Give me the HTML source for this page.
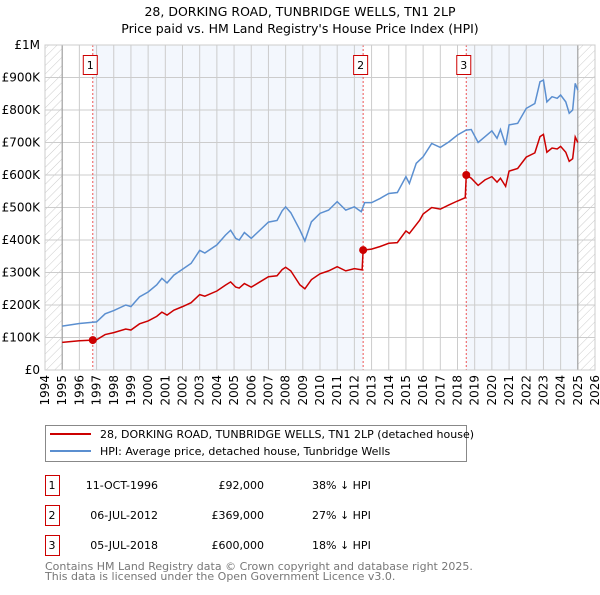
<!DOCTYPE html>
<html><head><meta charset="utf-8"><style>
body{margin:0;background:#fff;font-family:"Liberation Sans","DejaVu Sans",sans-serif;}
svg text{font-family:"DejaVu Sans","Liberation Sans",sans-serif;}
</style></head><body>
<svg id="c" width="600" height="590" xmlns="http://www.w3.org/2000/svg">
<defs><pattern id="hatch" width="6" height="6" patternUnits="userSpaceOnUse" patternTransform="rotate(45)"><line x1="0" y1="0" x2="0" y2="6" stroke="#ccc" stroke-width="1"/></pattern></defs>
<text x="300" y="16" text-anchor="middle" font-size="12.5">28, DORKING ROAD, TUNBRIDGE WELLS, TN1 2LP</text>
<text x="300" y="33" text-anchor="middle" font-size="12.5">Price paid vs. HM Land Registry's House Price Index (HPI)</text>
<g id="plot"></g>
<g>
<rect x="45.5" y="425.5" width="421" height="36" fill="#fff" stroke="#888"/>
<line x1="50" y1="434" x2="91" y2="434" stroke="#cc0000" stroke-width="2"/>
<text x="100" y="438" font-size="11">28, DORKING ROAD, TUNBRIDGE WELLS, TN1 2LP (detached house)</text>
<line x1="50" y1="451" x2="91" y2="451" stroke="#5b8fd0" stroke-width="2"/>
<text x="100" y="455" font-size="11">HPI: Average price, detached house, Tunbridge Wells</text>
</g>
<g id="table" font-size="11"></g>
<text x="45" y="570" font-size="11" fill="#777">Contains HM Land Registry data © Crown copyright and database right 2025.</text>
<text x="45" y="580" font-size="11" fill="#777">This data is licensed under the Open Government Licence v3.0.</text>
</svg>
<script>
const hpiYears=[1995,1996,1997,1997.5,1998,1998.7,1999,1999.5,2000,2000.5,2000.8,2001.1,2001.5,2002,2002.5,2003,2003.3,2004,2004.5,2004.8,2005.1,2005.3,2005.6,2006,2006.5,2007,2007.5,2007.8,2008,2008.3,2008.83,2009.12,2009.5,2010,2010.5,2011,2011.5,2012,2012.4,2012.6,2013,2013.5,2014,2014.5,2015,2015.2,2015.6,2016,2016.5,2017,2017.5,2018,2018.5,2018.8,2019.2,2019.6,2020,2020.3,2020.5,2020.8,2021,2021.5,2022,2022.5,2022.8,2023,2023.2,2023.5,2023.8,2024,2024.3,2024.5,2024.7,2024.85,2025];
const hpiValues=[135,143,148,173,183,200,195,225,240,262,282,268,292,310,328,368,360,385,415,430,405,400,423,405,430,455,460,490,502,484,431,397,456,482,492,518,492,502,487,515,515,528,543,546,595,574,636,656,697,685,702,723,738,740,700,718,736,713,740,692,754,759,805,820,887,892,825,841,836,846,825,790,800,882,861];
const paidYears=[1995,1996,1996.78,1997,1997.5,1998,1998.7,1999,1999.5,2000,2000.5,2000.8,2001.1,2001.5,2002,2002.5,2003,2003.3,2004,2004.5,2004.8,2005.1,2005.3,2005.6,2006,2006.5,2007,2007.5,2007.8,2008,2008.3,2008.83,2009.12,2009.5,2010,2010.5,2011,2011.5,2012,2012.45,2012.51,2013,2013.5,2014,2014.5,2015,2015.2,2015.8,2016,2016.5,2017,2017.5,2018,2018.45,2018.51,2018.8,2019.2,2019.6,2020,2020.3,2020.5,2020.8,2021,2021.5,2022,2022.5,2022.8,2023,2023.2,2023.5,2023.8,2024,2024.3,2024.5,2024.7,2024.85,2025];
const paidValues=[85,90,92,93,109,115,126,123,142,151,165,178,169,184,195,207,232,227,243,261,271,255,252,266,255,271,287,290,309,316,305,262,250,278,296,305,318,305,312,308,369,372,380,390,392,428,420,461,480,500,495,508,520,530,600,590,568,585,595,578,590,565,612,620,655,668,718,725,670,683,680,688,670,642,650,717,700];
const saleLabels=["1","2","3"];
const saleYears=[1996.78,2012.51,2018.51];
const saleValues=[92,369,600];
const saleDates=["11-OCT-1996","06-JUL-2012","05-JUL-2018"];
const salePrices=["£92,000","£369,000","£600,000"];
const saleDiffs=["38% ↓ HPI","27% ↓ HPI","18% ↓ HPI"];
const yTicks=[0,100,200,300,400,500,600,700,800,900,1000];
const yTickLabels=["£0","£100K","£200K","£300K","£400K","£500K","£600K","£700K","£800K","£900K","£1M"];
const xTicks=[1994,1995,1996,1997,1998,1999,2000,2001,2002,2003,2004,2005,2006,2007,2008,2009,2010,2011,2012,2013,2014,2015,2016,2017,2018,2019,2020,2021,2022,2023,2024,2025,2026];

const NS="http://www.w3.org/2000/svg";
const X0=45,X1=595,Y0=370,Y1=45,XMIN=1994,XMAX=2026;
const sx=v=>X0+(v-XMIN)/(XMAX-XMIN)*(X1-X0);
const sy=v=>Y0-v/1000*(Y0-Y1);
const plot=document.getElementById('plot');
function mk(tag,attrs,parent){const e=document.createElementNS(NS,tag);for(const k in attrs)e.setAttribute(k,attrs[k]);(parent||plot).appendChild(e);return e;}

let r;
r=mk('rect',{x:sx(saleYears[0]),y:Y1,width:sx(saleYears[1])-sx(saleYears[0]),height:Y0-Y1,fill:'#eef3fc',opacity:0.7});


r=mk('rect',{x:sx(saleYears[2]),y:Y1,width:sx(2025)-sx(saleYears[2]),height:Y0-Y1,fill:'#eef3fc',opacity:0.7});


r=mk('rect',{x:sx(1994),y:Y1,width:sx(1995)-sx(1994),height:Y0-Y1,fill:'url(#hatch)'});


r=mk('rect',{x:sx(2025),y:Y1,width:sx(2026)-sx(2025),height:Y0-Y1,fill:'url(#hatch)'});



yTicks.forEach((t,i)=>{
 const l=mk('line',{x1:X0,x2:X1,y1:sy(t),y2:sy(t),stroke:'#ccc','stroke-width':1});
 
 
 const tx=mk('text',{x:X0-5,y:sy(t)+4,'text-anchor':'end','font-size':12});
 tx.textContent=yTickLabels[i];
 
 
});
xTicks.forEach(t=>{
 const l=mk('line',{x1:sx(t),x2:sx(t),y1:Y1,y2:Y0,stroke:'#ccc','stroke-width':1});
 
 
 const tx=mk('text',{x:0,y:0,'text-anchor':'end','font-size':12,transform:`translate(${sx(t)+4},${Y0+5}) rotate(-90)`});
 tx.textContent=t;
 
 
});
r=mk('line',{x1:sx(1995),x2:sx(1995),y1:Y1,y2:Y0,stroke:'#999'});


r=mk('line',{x1:sx(2025),x2:sx(2025),y1:Y1,y2:Y0,stroke:'#999'});



saleYears.forEach((y,i)=>{
 const l=mk('line',{x1:sx(y),x2:sx(y),y1:Y1,y2:Y0,stroke:'#ee5555','stroke-dasharray':'2,2','stroke-width':1});
 
 
 const b=mk('rect',{x:sx(y)-9.5,y:55.5,width:14,height:19,fill:'#fff',stroke:'#cc0000'});
 
 
 const t=mk('text',{x:sx(y)-2.5,y:69,'text-anchor':'middle','font-size':11});
 t.textContent=saleLabels[i];
 
 
});

const hp=mk('polyline',{points:hpiYears.map((y,i)=>sx(y)+','+sy(hpiValues[i])).join(' '),fill:'none',stroke:'#5b8fd0','stroke-width':1.5});


const pp=mk('polyline',{points:paidYears.map((y,i)=>sx(y)+','+sy(paidValues[i])).join(' '),fill:'none',stroke:'#cc0000','stroke-width':1.5});


saleYears.forEach((y,i)=>{
 const c=mk('circle',{cx:sx(y),cy:sy(saleValues[i]),r:4,fill:'#cc0000'});
 
 
});
r=mk('rect',{x:X0,y:Y1,width:X1-X0,height:Y0-Y1,fill:'none',stroke:'#ccc'});



const tb=document.getElementById('table');
saleLabels.forEach((lab,i)=>{
 const yy=475+i*30;
 const b=mk('rect',{x:45.5,y:yy+0.5,width:14,height:20,fill:'#fff',stroke:'#cc0000'},tb);
 
 
 const cells=[[52,'middle',lab],[158,'end',saleDates[i]],[264,'end',salePrices[i]],[312,'start',saleDiffs[i]]];
 cells.forEach((c,j)=>{
  const t=mk('text',{x:c[0],y:yy+14,'text-anchor':c[1]},tb);
  t.textContent=c[2];
  
  
 });
});
</script>
</body></html>
